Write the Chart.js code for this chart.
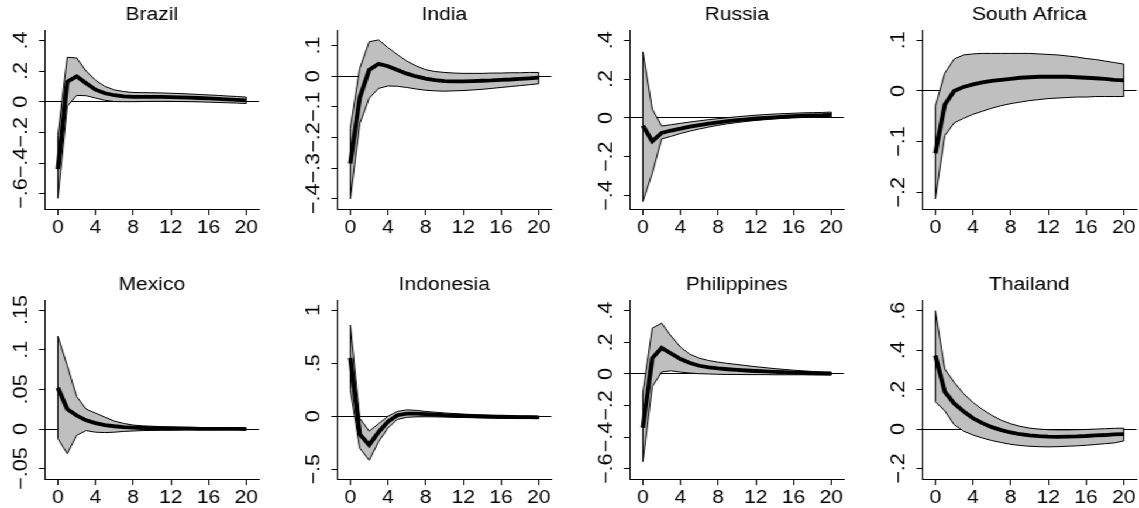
<!DOCTYPE html>
<html>
<head>
<meta charset="utf-8">
<script src="https://cdn.jsdelivr.net/npm/chart.js@4.4.1/dist/chart.umd.min.js"></script>
<style>
html,body{margin:0;padding:0;background:#fff;overflow:hidden;width:1139px;height:508px}
#wrap{position:absolute;left:0;top:0;width:974px;height:508px;transform-origin:0 0}
#wrap canvas{position:absolute}
</style>
</head>
<body>
<div id="wrap"></div>
<script>
// ---------------- DATA ----------------
const horizons = [0,1,2,3,4,5,6,7,8,9,10,11,12,13,14,15,16,17,18,19,20];
const xTicks = [0,4,8,12,16,20];

const brazilMean  = [-0.44,0.13,0.165,0.12,0.078,0.055,0.042,0.035,0.032,0.032,0.032,0.031,0.03,0.028,0.026,0.024,0.021,0.018,0.015,0.012,0.009];
const brazilUpper = [-0.22,0.29,0.285,0.2,0.14,0.1,0.077,0.066,0.06,0.059,0.058,0.057,0.055,0.053,0.05,0.047,0.044,0.041,0.037,0.034,0.03];
const brazilLower = [-0.63,-0.03,0.041,0.039,0.024,0.009,0.001,0.0,0.0,0.001,0.002,0.002,0.002,0.001,0.0,-0.001,-0.003,-0.005,-0.007,-0.009,-0.012];
const brazilTicks = [-0.6,-0.4,-0.2,0,0.2,0.4];
const brazilTickLabels = ["\u2212.6","\u2212.4","\u2212.2","0",".2",".4"];

const indiaMean  = [-0.285,-0.07,0.02,0.04,0.032,0.02,0.008,-0.001,-0.008,-0.013,-0.016,-0.017,-0.017,-0.016,-0.015,-0.014,-0.012,-0.011,-0.009,-0.007,-0.005];
const indiaUpper = [-0.17,0.025,0.112,0.118,0.093,0.07,0.049,0.033,0.021,0.015,0.012,0.01,0.009,0.009,0.009,0.01,0.01,0.011,0.011,0.012,0.012];
const indiaLower = [-0.4,-0.155,-0.072,-0.04,-0.032,-0.033,-0.037,-0.042,-0.046,-0.048,-0.049,-0.048,-0.047,-0.045,-0.043,-0.04,-0.037,-0.034,-0.031,-0.028,-0.025];
const indiaTicks = [-0.4,-0.3,-0.2,-0.1,0,0.1];
const indiaTickLabels = ["\u2212.4","\u2212.3","\u2212.2","\u2212.1","0",".1"];

const russiaMean  = [-0.04,-0.12,-0.077,-0.065,-0.055,-0.045,-0.037,-0.03,-0.023,-0.017,-0.012,-0.007,-0.003,0.0,0.003,0.006,0.009,0.011,0.013,0.014,0.016];
const russiaUpper = [0.34,0.045,-0.042,-0.035,-0.028,-0.021,-0.015,-0.009,-0.004,0.001,0.006,0.01,0.014,0.017,0.02,0.022,0.024,0.026,0.027,0.028,0.03];
const russiaLower = [-0.43,-0.285,-0.108,-0.095,-0.08,-0.068,-0.057,-0.047,-0.038,-0.03,-0.024,-0.018,-0.013,-0.009,-0.005,-0.002,0.0,0.002,0.004,0.005,0.006];
const russiaTicks = [-0.4,-0.2,0,0.2,0.4];
const russiaTickLabels = ["\u2212.4","\u2212.2","0",".2",".4"];

const southAfricaMean  = [-0.123,-0.027,0.0,0.008,0.013,0.017,0.02,0.022,0.024,0.026,0.027,0.028,0.028,0.028,0.028,0.027,0.026,0.025,0.024,0.022,0.021];
const southAfricaUpper = [-0.03,0.035,0.063,0.071,0.073,0.074,0.074,0.074,0.074,0.074,0.074,0.073,0.072,0.071,0.069,0.067,0.064,0.062,0.059,0.056,0.053];
const southAfricaLower = [-0.213,-0.088,-0.063,-0.054,-0.046,-0.04,-0.034,-0.029,-0.025,-0.022,-0.019,-0.017,-0.015,-0.014,-0.013,-0.012,-0.012,-0.011,-0.011,-0.011,-0.011];
const southAfricaTicks = [-0.2,-0.1,0,0.1];
const southAfricaTickLabels = ["\u2212.2","\u2212.1","0",".1"];

const mexicoMean  = [0.052,0.025,0.017,0.011,0.0075,0.005,0.0035,0.0025,0.0018,0.0013,0.001,0.0008,0.0006,0.0005,0.0004,0.0003,0.0002,0.0002,0.0001,0.0001,0.0];
const mexicoUpper = [0.117,0.08,0.041,0.025,0.02,0.015,0.01,0.007,0.005,0.004,0.0035,0.003,0.0028,0.0025,0.0022,0.002,0.0018,0.0016,0.0014,0.0012,0.001];
const mexicoLower = [-0.012,-0.031,-0.008,-0.002,-0.004,-0.0045,-0.004,-0.003,-0.0025,-0.002,-0.0018,-0.0016,-0.0014,-0.0012,-0.001,-0.001,-0.0009,-0.0008,-0.0007,-0.0006,-0.0005];
const mexicoTicks = [-0.05,0,0.05,0.1,0.15];
const mexicoTickLabels = ["\u2212.05","0",".05",".1",".15"];

const indonesiaMean  = [0.55,-0.17,-0.27,-0.15,-0.05,0.01,0.025,0.025,0.02,0.015,0.01,0.007,0.004,0.001,-0.001,-0.003,-0.005,-0.007,-0.008,-0.009,-0.01];
const indonesiaUpper = [0.86,-0.02,-0.14,-0.07,0.0,0.045,0.06,0.055,0.045,0.038,0.031,0.025,0.02,0.016,0.012,0.009,0.006,0.004,0.002,0.001,0.0];
const indonesiaLower = [0.25,-0.3,-0.415,-0.24,-0.11,-0.03,-0.01,-0.006,-0.005,-0.006,-0.008,-0.01,-0.012,-0.014,-0.016,-0.018,-0.02,-0.021,-0.022,-0.022,-0.022];
const indonesiaTicks = [-0.5,0,0.5,1];
const indonesiaTickLabels = ["\u2212.5","0",".5","1"];

const philippinesMean  = [-0.34,0.1,0.165,0.13,0.095,0.07,0.052,0.042,0.035,0.03,0.026,0.022,0.019,0.016,0.013,0.011,0.009,0.007,0.005,0.004,0.003];
const philippinesUpper = [-0.12,0.29,0.322,0.24,0.17,0.125,0.1,0.085,0.075,0.067,0.06,0.053,0.046,0.04,0.034,0.029,0.024,0.02,0.016,0.013,0.01];
const philippinesLower = [-0.555,-0.08,0.013,0.02,0.012,0.006,0.002,0.0,-0.002,-0.003,-0.003,-0.004,-0.004,-0.004,-0.005,-0.005,-0.005,-0.005,-0.006,-0.006,-0.006];
const philippinesTicks = [-0.6,-0.4,-0.2,0,0.2,0.4];
const philippinesTickLabels = ["\u2212.6","\u2212.4","\u2212.2","0",".2",".4"];

const thailandMean  = [0.373,0.19,0.13,0.09,0.055,0.03,0.01,-0.005,-0.017,-0.026,-0.032,-0.036,-0.038,-0.039,-0.038,-0.037,-0.035,-0.032,-0.03,-0.027,-0.025];
const thailandUpper = [0.6,0.305,0.237,0.18,0.135,0.1,0.07,0.045,0.027,0.014,0.005,0.0,-0.003,-0.004,-0.004,-0.003,-0.002,0.0,0.002,0.004,0.005];
const thailandLower = [0.139,0.093,0.022,-0.01,-0.03,-0.045,-0.058,-0.068,-0.077,-0.083,-0.087,-0.089,-0.09,-0.089,-0.087,-0.085,-0.082,-0.078,-0.074,-0.07,-0.06];
const thailandTicks = [-0.2,0,0.2,0.4,0.6];
const thailandTickLabels = ["\u2212.2","0",".2",".4",".6"];

// ---------------- LAYOUT ----------------
const S = 1.17;            // horizontal stretch of the whole figure
const YW = 40;             // y-axis box width (canvas units)
const TITLE_H = 30.1;      // title box height
const XH = 30.4;           // x-axis box height
const CW = 225, CH = 240;  // canvas size
const X_MIN = -1.42, X_MAX = 21.36;
const BAND = '#bfbfbf';
const FONT = '"Liberation Sans", Arial, Helvetica, sans-serif';
const YLAB_GAP = 18;       // display px from axis line to y-label baseline
const YLAB_SIZE = 16;      // y-label font size
const YLAB_STRETCH = 1.35; // stretch of y labels along their reading direction
const TICK_LEN = 5.5;

const panels = [
  {title:'Brazil', mean:brazilMean, hi:brazilUpper, lo:brazilLower, yTicks:brazilTicks, yLabels:brazilTickLabels, yMin:-0.704, yMax:0.467, left:44, top:30.5},
  {title:'India', mean:indiaMean, hi:indiaUpper, lo:indiaLower, yTicks:indiaTicks, yLabels:indiaTickLabels, yMin:-0.435, yMax:0.150, left:336.7, top:30.5},
  {title:'Russia', mean:russiaMean, hi:russiaUpper, lo:russiaLower, yTicks:russiaTicks, yLabels:russiaTickLabels, yMin:-0.472, yMax:0.452, left:630, top:30.5},
  {title:'South Africa', mean:southAfricaMean, hi:southAfricaUpper, lo:southAfricaLower, yTicks:southAfricaTicks, yLabels:southAfricaTickLabels, yMin:-0.234, yMax:0.120, left:922.3, top:30.5},
  {title:'Mexico', mean:mexicoMean, hi:mexicoUpper, lo:mexicoLower, yTicks:mexicoTicks, yLabels:mexicoTickLabels, yMin:-0.0638, yMax:0.1626, left:44.3, top:300},
  {title:'Indonesia', mean:indonesiaMean, hi:indonesiaUpper, lo:indonesiaLower, yTicks:indonesiaTicks, yLabels:indonesiaTickLabels, yMin:-0.597, yMax:1.094, left:336.7, top:300},
  {title:'Philippines', mean:philippinesMean, hi:philippinesUpper, lo:philippinesLower, yTicks:philippinesTicks, yLabels:philippinesTickLabels, yMin:-0.669, yMax:0.468, left:630, top:300},
  {title:'Thailand', mean:thailandMean, hi:thailandUpper, lo:thailandLower, yTicks:thailandTicks, yLabels:thailandTickLabels, yMin:-0.256, yMax:0.654, left:922.3, top:300}
];

Chart.defaults.font.family = FONT;
Chart.defaults.font.size = 18;
Chart.defaults.color = '#000';

const wrap = document.getElementById('wrap');
wrap.style.transform = 'scaleX(' + S + ')';

panels.forEach(p => {
  const cv = document.createElement('canvas');
  cv.width = CW; cv.height = CH;
  cv.style.left = (p.left / S - YW) + 'px';
  cv.style.top = (p.top - TITLE_H) + 'px';
  wrap.appendChild(cv);

  const pts = arr => horizons.map((h, i) => ({x: h, y: arr[i]}));
  const n = horizons.length - 1;
  const thin = {borderColor:'#000', borderWidth:1, pointRadius:0, order:1, fill:false};

  const yLabelPlugin = {
    id: 'yLabels',
    afterDraw(chart) {
      const ctx = chart.ctx, ys = chart.scales.y;
      const x = chart.chartArea.left - YLAB_GAP / S;
      ctx.save();
      ctx.font = YLAB_SIZE + 'px ' + FONT;
      ctx.fillStyle = '#000';
      ctx.textAlign = 'center';
      ctx.textBaseline = 'alphabetic';
      p.yTicks.forEach((v, i) => {
        ctx.save();
        ctx.translate(x, ys.getPixelForValue(v));
        ctx.rotate(-Math.PI / 2);
        ctx.scale(YLAB_STRETCH, 1);
        ctx.fillText(p.yLabels[i], 0, 0);
        ctx.restore();
      });
      ctx.restore();
    }
  };

  new Chart(cv, {
    type: 'line',
    data: {
      datasets: [
        Object.assign({data: pts(p.lo)}, thin),
        Object.assign({}, thin, {data: pts(p.hi), fill: '-1', backgroundColor: BAND}),
        Object.assign({data: [{x: horizons[0], y: p.lo[0]}, {x: horizons[0], y: p.hi[0]}]}, thin),
        Object.assign({data: [{x: horizons[n], y: p.lo[n]}, {x: horizons[n], y: p.hi[n]}]}, thin),
        {data: pts(p.mean), borderColor:'#000', borderWidth:3.8, pointRadius:0, order:0, fill:false, borderCapStyle:'butt'}
      ]
    },
    options: {
      responsive: false,
      animation: false,
      devicePixelRatio: 1,
      events: [],
      layout: {padding: 0},
      elements: {line: {tension: 0}, point: {radius: 0, hoverRadius: 0}},
      plugins: {
        legend: {display: false},
        tooltip: {enabled: false},
        filler: {drawTime: 'beforeDatasetsDraw', propagate: false},
        title: {display: true, text: p.title, fullSize: false, color: '#000',
                font: {size: 18, weight: 'normal', family: FONT}, padding: {top: 4, bottom: 4.5}}
      },
      scales: {
        x: {
          type: 'linear', min: X_MIN, max: X_MAX,
          afterBuildTicks: s => { s.ticks = xTicks.map(v => ({value: v})); },
          afterFit: s => { s.height = XH; },
          ticks: {autoSkip: false, maxRotation: 0, minRotation: 0, padding: 2.5, color: '#000',
                  font: {size: 18, family: FONT}, callback: v => String(v)},
          grid: {drawOnChartArea: false, color: '#000', tickColor: '#000', tickLength: TICK_LEN, lineWidth: 1},
          border: {display: true, color: '#000', width: 1}
        },
        y: {
          type: 'linear', min: p.yMin, max: p.yMax,
          afterBuildTicks: s => { s.ticks = p.yTicks.map(v => ({value: v})); },
          afterFit: s => { s.width = YW; },
          ticks: {display: false},
          grid: {drawOnChartArea: true,
                 color: c => (c.tick && Math.abs(c.tick.value) < 1e-12) ? '#000' : 'rgba(0,0,0,0)',
                 tickColor: '#000', tickLength: TICK_LEN / S, lineWidth: 1},
          border: {display: true, color: '#000', width: 1}
        }
      }
    },
    plugins: [yLabelPlugin]
  });
});
</script>
</body>
</html>
